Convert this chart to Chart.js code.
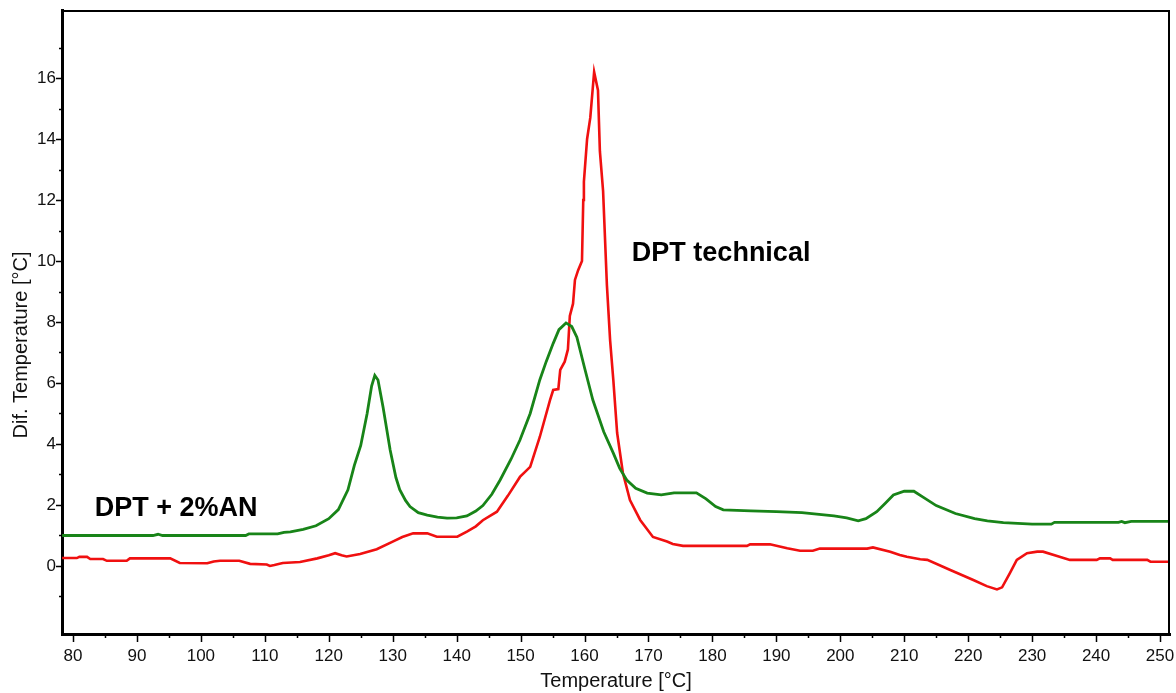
<!DOCTYPE html>
<html>
<head>
<meta charset="utf-8">
<script src="https://cdn.jsdelivr.net/npm/chart.js@4/dist/chart.umd.min.js"></script>
<style>
  body { margin: 0; background: #fff; }
  #wrap { width: 1176px; height: 693px; }
</style>
</head>
<body>
<div id="wrap"><canvas id="dta"></canvas></div>
<script>
// DPT technical (red)
const redTemp = [78.3, 80.6, 81, 82.2, 82.7, 84.7, 85.3, 88.4, 88.9, 95.2, 96.7, 101, 102, 103, 106, 107.7, 110.3, 110.8, 111.5, 112.8,
  115.5, 118.2, 120, 121, 122, 122.8, 124.9, 127.5, 130, 131.5, 133.2, 135.4, 136.9, 140.1, 141.6, 143, 144.1, 146.3, 148, 149.9,
  151.5, 153, 154.6, 155.1, 155.9, 156.2, 156.9, 157.4, 157.7, 158.2, 158.5, 159, 159.6, 159.8, 159.9, 160.4, 160.9, 161.5, 162.1, 162.4,
  162.9, 163.5, 164, 164.5, 165.1, 166, 167.1, 168.7, 170.7, 172.9, 173.8, 175.4, 185.4, 185.9, 189, 191.7, 193.7, 195.7, 196.8, 204.2,
  205.1, 207.8, 209.3, 210.4, 212.5, 213.6, 217.2, 220.8, 222.9, 224.5, 225.3, 226.5, 227.6, 229.2, 230.8, 231.7, 233.9, 235.9, 240.1, 240.6,
  242.2, 242.6, 248, 248.5, 251.5];
const redDiff = [0.26, 0.26, 0.3, 0.3, 0.23, 0.23, 0.17, 0.17, 0.25, 0.25, 0.1, 0.09, 0.15, 0.17, 0.17, 0.07, 0.05, 0.0, 0.03, 0.1,
  0.13, 0.25, 0.35, 0.42, 0.35, 0.31, 0.39, 0.55, 0.8, 0.95, 1.07, 1.07, 0.96, 0.96, 1.13, 1.3, 1.5, 1.78, 2.3, 2.92,
  3.25, 4.23, 5.44, 5.77, 5.8, 6.43, 6.7, 7.1, 8.2, 8.6, 9.38, 9.7, 10.0, 12.0, 12.6, 14.0, 14.7, 16.2, 15.6, 13.6,
  12.3, 9.2, 7.4, 6.1, 4.36, 3.05, 2.16, 1.51, 0.95, 0.8, 0.72, 0.66, 0.66, 0.71, 0.71, 0.58, 0.5, 0.5, 0.57, 0.57,
  0.61, 0.47, 0.36, 0.3, 0.22, 0.2, -0.13, -0.46, -0.66, -0.77, -0.7, -0.24, 0.2, 0.42, 0.47, 0.47, 0.33, 0.2, 0.2, 0.25,
  0.25, 0.2, 0.2, 0.14, 0.14];

// DPT + 2% AN (green)
const greenTemp = [78.3, 85, 92.5, 93.3, 94, 100, 107, 107.5, 112, 113, 114, 116, 118, 120, 121.5, 123, 124, 125, 126, 126.7,
  127.2, 127.7, 128.5, 129.6, 130.5, 131.1, 132, 132.7, 134, 135.4, 137, 138.5, 140, 141.6, 143, 144.1, 145.5, 146.8, 148.5, 149.9,
  151.5, 153, 154, 155.1, 156, 157.1, 158, 158.8, 160, 161.3, 163, 164.5, 165.5, 166.6, 168, 169.8, 172, 174, 177.5, 179,
  180.5, 181.7, 186, 190, 194, 199, 201, 202.8, 204, 205.7, 207, 208.3, 210, 211.5, 213, 215, 218, 221, 223, 225.5,
  230, 233, 233.5, 243.5, 244, 244.5, 245.5, 251.5];
const greenDiff = [1.0, 1.0, 1.0, 1.04, 1.0, 1.0, 1.0, 1.05, 1.05, 1.1, 1.12, 1.2, 1.32, 1.55, 1.85, 2.5, 3.3, 3.95, 5.0, 5.9,
  6.25, 6.1, 5.2, 3.8, 2.9, 2.5, 2.15, 1.95, 1.75, 1.67, 1.6, 1.57, 1.58, 1.64, 1.8, 1.98, 2.35, 2.82, 3.5, 4.13,
  5.0, 6.1, 6.7, 7.3, 7.75, 7.97, 7.85, 7.5, 6.5, 5.44, 4.4, 3.7, 3.2, 2.82, 2.55, 2.39, 2.33, 2.4, 2.4, 2.2,
  1.95, 1.84, 1.81, 1.78, 1.75, 1.64, 1.58, 1.48, 1.55, 1.78, 2.05, 2.33, 2.45, 2.45, 2.25, 1.98, 1.72, 1.55, 1.48, 1.42,
  1.37, 1.37, 1.43, 1.43, 1.46, 1.42, 1.46, 1.46];

const toPoints = (xs, ys) => xs.map((t, i) => ({ x: t, y: ys[i] }));

const family = '"Liberation Sans", Arial, sans-serif';

// minor/major tick marks, top/right frame, y title and the two curve notes
const extras = {
  id: 'extras',
  afterDraw(chart) {
    const { ctx, chartArea: a, scales: { x, y } } = chart;
    ctx.save();
    ctx.strokeStyle = '#000';
    ctx.lineWidth = 1.5;
    ctx.beginPath();
    x.ticks.forEach(t => {
      const px = Math.round(x.getPixelForValue(t.value)) + 0.5;
      const len = t.value % 10 === 0 ? 8 : 4;
      ctx.moveTo(px, a.bottom);
      ctx.lineTo(px, a.bottom + len);
    });
    y.ticks.forEach(t => {
      const py = Math.round(y.getPixelForValue(t.value)) + 0.5;
      const len = t.value % 2 === 0 ? 6 : 3;
      ctx.moveTo(a.left - len, py);
      ctx.lineTo(a.left, py);
    });
    ctx.stroke();

    ctx.lineWidth = 2;
    ctx.beginPath();
    ctx.moveTo(a.left, a.top + 1);
    ctx.lineTo(a.right - 1, a.top + 1);
    ctx.lineTo(a.right - 1, a.bottom);
    ctx.stroke();

    // y axis title sits a little below the middle of the axis
    ctx.fillStyle = '#111';
    ctx.font = '20px ' + family;
    ctx.textAlign = 'center';
    ctx.textBaseline = 'middle';
    ctx.save();
    ctx.translate(21, 345);
    ctx.rotate(-Math.PI / 2);
    ctx.fillText('Dif. Temperature [°C]', 0, 0);
    ctx.restore();

    ctx.fillStyle = '#000';
    ctx.font = 'bold 27px ' + family;
    ctx.textAlign = 'left';
    ctx.fillText('DPT + 2%AN', x.getPixelForValue(83.4), y.getPixelForValue(1.87));
    ctx.fillText('DPT technical', x.getPixelForValue(167.4), y.getPixelForValue(10.26));
    ctx.restore();
  }
};

const font = { family, size: 17 };

const noEdgePadding = s => {
  s.paddingLeft = 0;
  s.paddingRight = 0;
  s.paddingTop = 0;
  s.paddingBottom = 0;
};

new Chart(document.getElementById('dta'), {
  type: 'line',
  data: {
    datasets: [
      {
        label: 'DPT + 2%AN',
        data: toPoints(greenTemp, greenDiff),
        borderColor: '#188418',
        borderWidth: 2.8,
        pointRadius: 0,
        tension: 0,
      },
      {
        label: 'DPT technical',
        data: toPoints(redTemp, redDiff),
        borderColor: '#f01010',
        borderWidth: 2.6,
        pointRadius: 0,
        tension: 0,
      },
    ]
  },
  options: {
    responsive: true,
    maintainAspectRatio: false,
    animation: false,
    layout: { padding: { top: 10, right: 6, left: 0, bottom: 0 } },
    plugins: { legend: { display: false }, tooltip: { enabled: false } },
    scales: {
      x: {
        type: 'linear',
        min: 78.28,
        max: 251.56,
        afterFit: s => { s.height = 59; noEdgePadding(s); },
        ticks: {
          stepSize: 5,
          includeBounds: false,
          autoSkip: false,
          maxRotation: 0,
          padding: 12,
          color: '#111',
          font,
          callback: v => (v % 10 === 0 ? v : ''),
        },
        grid: { display: true, drawOnChartArea: false, drawTicks: false },
        border: { color: '#000', width: 3 },
        title: { display: true, text: 'Temperature [°C]', color: '#111', font: { family, size: 20 }, padding: { top: 0, bottom: 0 } },
      },
      y: {
        min: -2.23,
        max: 18.23,
        afterFit: s => { s.width = 62; noEdgePadding(s); },
        afterBuildTicks: s => { s.ticks = s.ticks.filter(t => t.value >= -1 && t.value <= 17); },
        ticks: {
          stepSize: 1,
          includeBounds: false,
          autoSkip: false,
          padding: 6,
          color: '#111',
          font,
          callback: v => (v % 2 === 0 ? v : ''),
        },
        grid: { display: true, drawOnChartArea: false, drawTicks: false },
        border: { color: '#000', width: 3 },
      }
    }
  },
  plugins: [extras]
});
</script>
</body>
</html>
